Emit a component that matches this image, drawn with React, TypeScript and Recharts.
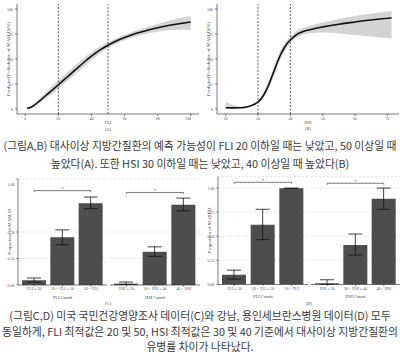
import React from "react";
import {
  ComposedChart,
  Area,
  Line,
  XAxis,
  YAxis,
  ReferenceLine,
  BarChart,
  Bar,
  ErrorBar,
  CartesianGrid,
} from "recharts";

// (A) predicted probability of MASLD (%) by FLI, with 95% band
const fliScore = [1, 3, 5, 7.5, 10, 15, 20, 25, 30, 35, 40, 45, 50, 55, 60, 65, 70, 75, 80, 85, 90, 95, 100];
const fliProb = [0.7, 1.6, 3.3, 6.5, 10, 17.2, 24.2, 31.5, 38.8, 46, 52.8, 58.8, 63.8, 68, 71.5, 74.5, 77, 79.2, 81.2, 83, 84.5, 85.8, 87];
const fliLow = [0.3, 0.9, 2.2, 4.8, 7.6, 13.8, 20.2, 27.2, 34.5, 41.8, 49, 55.5, 61, 65.3, 68.8, 71.7, 74, 75.8, 77.3, 78.4, 79, 79.2, 79];
const fliHigh = [1.3, 2.6, 4.8, 8.5, 12.8, 21, 28.5, 36, 43.3, 50.4, 56.8, 62.2, 66.8, 70.7, 74.2, 77.3, 80, 82.6, 85, 87.4, 89.6, 91.4, 93];

// (B) predicted probability of MASLD (%) by HSI
const hsiScore = [20, 22, 24, 26, 28, 29, 30, 31, 32, 33, 34, 35, 36, 37, 38, 39, 40, 42, 44, 46, 48, 50, 55, 60, 65, 71.3];
const hsiProb = [1.2, 1.1, 1.2, 1.8, 3.5, 5, 7, 10.5, 15.5, 22, 30, 38.5, 47, 54.5, 60.5, 65.5, 69, 74.5, 77.5, 79.3, 80.8, 82, 84.8, 87, 89, 91];
const hsiLow = [0, 0.2, 0.5, 1.2, 2.8, 4, 5.5, 8.5, 12.8, 18.5, 26, 34, 42.5, 50, 56.5, 62, 66, 71.5, 74.5, 75.8, 76.3, 76.5, 75.5, 74, 72.5, 70.5];
const hsiHigh = [7, 4.5, 2.5, 2.6, 4.3, 6, 8.7, 12.8, 18.5, 25.5, 34, 43, 51.5, 59, 64.5, 69, 72.5, 78, 81, 83, 85, 86.5, 90, 93, 95.5, 98];

const probTicks = [0, 25, 50, 75, 100];
const fliTicks = [0, 20, 40, 60, 80, 100];
const hsiTicks = [20, 30, 40, 50, 60, 70];
const fliCuts = [20, 50];
const hsiCuts = [30, 40];

const fliGroups = ["FLI ≤ 20", "20 < FLI ≤ 50", "50 < FLI"];
const hsiGroups = ["HSI ≤ 30", "30 < HSI ≤ 40", "40 < HSI"];
const propTicks = [0, 0.25, 0.5, 0.75, 1];

// (C) 미국 국민건강영양조사
const usFliProp = [0.045, 0.45, 0.772];
const usFliLow = [0.027, 0.38, 0.72];
const usFliHigh = [0.066, 0.52, 0.83];
const usHsiProp = [0.013, 0.313, 0.756];
const usHsiLow = [0.005, 0.27, 0.7];
const usHsiHigh = [0.028, 0.36, 0.82];

// (D) 강남, 용인세브란스병원
const krFliProp = [0.1, 0.62, 0.997];
const krFliLow = [0.056, 0.465, 0.995];
const krFliHigh = [0.149, 0.78, 1.0];
const krHsiProp = [0.014, 0.41, 0.89];
const krHsiLow = [0, 0.305, 0.78];
const krHsiHigh = [0.049, 0.524, 1.0];

const serif = "'Liberation Serif', 'DejaVu Serif', serif";
const axisColor = "#222";

// plain svg tick, recharts' Text wraps these tiny labels otherwise
function Tick({ x, y, payload, textAnchor, fmt }: any) {
  const label = fmt ? fmt(payload.value) : payload.value;
  return (
    <text x={x} y={y} textAnchor={textAnchor || "middle"} dominantBaseline="central" fontSize={4} fill="#555" fontFamily={serif}>
      {label}
    </text>
  );
}

function AxisName({ viewBox, text, dy }: any) {
  const vb = viewBox || { x: 0, y: 0, width: 0, height: 0 };
  return (
    <text x={vb.x + vb.width / 2} y={vb.y + dy} textAnchor="middle" dominantBaseline="central" fontSize={4.5} fontFamily={serif} fill="#444">
      {text}
    </text>
  );
}

function YName({ viewBox, text, x }: any) {
  const vb = viewBox || { x: 0, y: 0, width: 0, height: 0 };
  const cy = vb.y + vb.height / 2;
  return (
    <text x={x} y={cy} transform={`rotate(-90, ${x}, ${cy})`} textAnchor="middle" dominantBaseline="central" fontSize={5} fontFamily={serif} fill="#444">
      {text}
    </text>
  );
}

function CurvePanel({ score, prob, low, high, domain, ticks, cuts, name }: any) {
  const data = score.map((s: number, i: number) => ({ s, p: prob[i], band: [low[i], high[i]] }));
  return (
    <ComposedChart width={200} height={135} data={data} margin={{ top: 4, right: 1, bottom: 0, left: 0 }}>
      <XAxis
        dataKey="s"
        type="number"
        domain={domain}
        ticks={ticks}
        allowDataOverflow
        height={21}
        tickSize={2}
        tick={<Tick />}
        stroke={axisColor}
        strokeWidth={0.6}
        label={<AxisName text={name} dy={8} />}
      />
      <YAxis
        type="number"
        domain={[-5, 105]}
        ticks={probTicks}
        allowDataOverflow
        width={17}
        tickSize={2}
        tick={<Tick textAnchor="end" />}
        stroke={axisColor}
        strokeWidth={0.6}
        label={<YName text="Predicted Probability of MASLD(%)" x={5.5} />}
      />
      <Area type="monotone" dataKey="band" stroke="none" fill="#d3d3d3" fillOpacity={1} isAnimationActive={false} />
      <Line type="monotone" dataKey="p" stroke="#111" strokeWidth={1.6} dot={false} isAnimationActive={false} />
      {cuts.map((c: number) => (
        <ReferenceLine key={c} x={c} stroke="#333" strokeWidth={0.8} strokeDasharray="2 1.5" />
      ))}
    </ComposedChart>
  );
}

function FacetPanel({ groups, prop, low, high, domain, width, height, marginTop, showY, bracketY, name }: any) {
  const data = groups.map((g: string, i: number) => ({ g, v: prop[i], err: [prop[i] - low[i], high[i] - prop[i]] }));
  const drop = (domain[1] - domain[0]) * 0.014;
  return (
    <BarChart width={width} height={height} data={data} margin={{ top: marginTop, right: 0, bottom: 0, left: 0 }}>
      <CartesianGrid vertical={false} stroke="#cfcfcf" strokeWidth={0.6} strokeDasharray="2 2" />
      <XAxis
        dataKey="g"
        padding={{ left: 2, right: 2 }}
        height={16}
        interval={0}
        tickSize={1.5}
        tick={<Tick />}
        stroke={axisColor}
        strokeWidth={0.6}
        label={<AxisName text={name} dy={12} />}
      />
      <YAxis
        hide={!showY}
        width={18}
        type="number"
        domain={domain}
        ticks={propTicks}
        allowDataOverflow
        tickSize={1.5}
        tick={<Tick textAnchor="end" fmt={(v: number) => v.toFixed(2)} />}
        stroke={axisColor}
        strokeWidth={0.6}
        label={<YName text="Proportion of MASLD" x={5.5} />}
      />
      <Bar dataKey="v" fill="#4d4d4d" barSize={24} isAnimationActive={false}>
        <ErrorBar dataKey="err" width={7} stroke="#111" strokeWidth={0.8} direction="y" />
      </Bar>
      <ReferenceLine
        segment={[{ x: groups[0], y: bracketY }, { x: groups[2], y: bracketY }]}
        stroke="#444"
        strokeWidth={0.7}
        ifOverflow="visible"
        label={{ value: "*", position: "top", offset: 0.5, fontSize: 5, fill: "#333", fontFamily: serif }}
      />
      <ReferenceLine segment={[{ x: groups[0], y: bracketY }, { x: groups[0], y: bracketY - drop }]} stroke="#444" strokeWidth={0.7} />
      <ReferenceLine segment={[{ x: groups[2], y: bracketY }, { x: groups[2], y: bracketY - drop }]} stroke="#444" strokeWidth={0.7} />
    </BarChart>
  );
}

const cap1 = [
  "(그림A,B) 대사이상 지방간질환의 예측 가능성이 FLI 20 이하일 때는 낮았고, 50 이상일 때",
  "높았다(A). 또한 HSI 30 이하일 때는 낮았고, 40 이상일 때 높았다(B)",
];
const cap2 = [
  "(그림C,D) 미국 국민건강영양조사 데이터(C)와 강남, 용인세브란스병원 데이터(D) 모두",
  "동일하게, FLI 최적값은 20 및 50, HSI 최적값은 30 및 40 기준에서 대사이상 지방간질환의",
  "유병률 차이가 나타났다.",
];

function Caption({ lines, centers }: any) {
  return (
    <>
      {lines.map((l: string, i: number) => (
        <div
          key={l}
          style={{
            position: "absolute",
            left: 0,
            top: centers[i] - 6,
            width: 400,
            height: 12,
            textAlign: "center",
            fontFamily: "'Noto Sans CJK KR', sans-serif",
            fontSize: 10.8,
            lineHeight: "12px",
            color: "#3a3a3a",
            whiteSpace: "nowrap",
          }}
        >
          {l}
        </div>
      ))}
    </>
  );
}

const at = (left: number, top: number): React.CSSProperties => ({ position: "absolute", left, top });

export default function App() {
  return (
    <div style={{ position: "absolute", left: 0, top: 0, width: 400, height: 354, background: "#fff", overflow: "hidden" }}>
      <div style={at(0, 0)}>
        <CurvePanel score={fliScore} prob={fliProb} low={fliLow} high={fliHigh} domain={[-5, 105]} ticks={fliTicks} cuts={fliCuts} name="FLI" />
      </div>
      <div style={at(200, 0)}>
        <CurvePanel score={hsiScore} prob={hsiProb} low={hsiLow} high={hsiHigh} domain={[17.3, 73.6]} ticks={hsiTicks} cuts={hsiCuts} name="HSI" />
      </div>

      <div style={at(0, 175)}>
        <FacetPanel groups={fliGroups} prop={usFliProp} low={usFliLow} high={usFliHigh} domain={[0, 1]} width={107} height={126} marginTop={4} showY bracketY={0.89} name="FLI Cutoff" />
      </div>
      <div style={at(110, 175)}>
        <FacetPanel groups={hsiGroups} prop={usHsiProp} low={usHsiLow} high={usHsiHigh} domain={[0, 1]} width={90} height={126} marginTop={4} showY={false} bracketY={0.873} name="HSI Cutoff" />
      </div>
      <div style={at(200, 175)}>
        <FacetPanel groups={fliGroups} prop={krFliProp} low={krFliLow} high={krFliHigh} domain={[0, 1.12]} width={108} height={125.5} marginTop={1.5} showY bracketY={1.06} name="FLI Cutoff" />
      </div>
      <div style={at(311, 175)}>
        <FacetPanel groups={hsiGroups} prop={krHsiProp} low={krHsiLow} high={krHsiHigh} domain={[0, 1.12]} width={89} height={125.5} marginTop={1.5} showY={false} bracketY={1.05} name="HSI Cutoff" />
      </div>

      <svg width={400} height={354} style={{ position: "absolute", left: 0, top: 0, pointerEvents: "none" }}>
        <g fontFamily={serif} fontSize={4.5} fill="#444" textAnchor="middle" dominantBaseline="central">
          <text x={108} y={129}>(A)</text>
          <text x={308} y={128}>(B)</text>
          <text x={108} y={303}>(C)</text>
          <text x={309} y={303}>(D)</text>
        </g>
      </svg>

      <Caption lines={cap1} centers={[145, 163]} />
      <Caption lines={cap2} centers={[314.5, 331, 346]} />
    </div>
  );
}
